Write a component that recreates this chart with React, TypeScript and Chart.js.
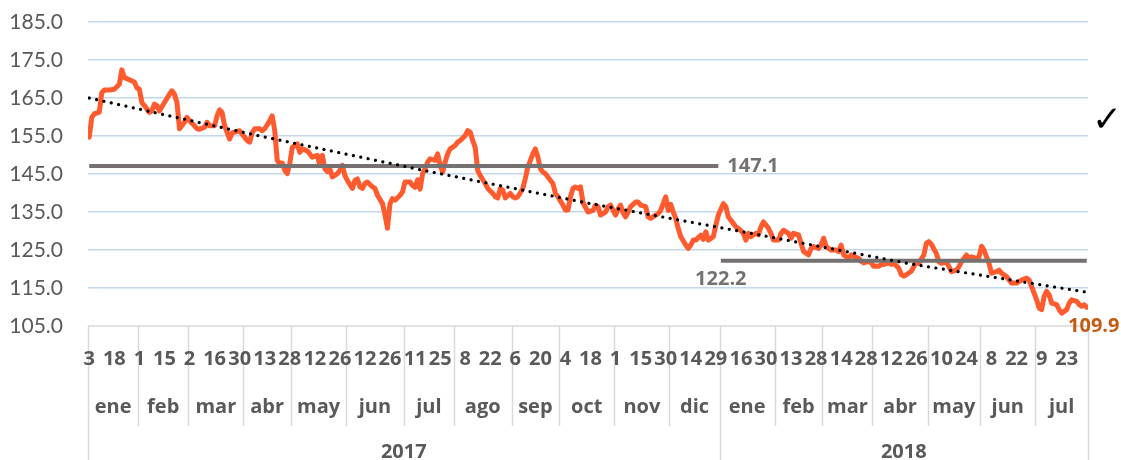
import React, { useEffect, useRef } from "react";
import { Chart, registerables } from "chart.js";

Chart.register(...registerables);

// trading-day index of each reading and the value read at it
const dayIndex = [
  0, 1, 2, 4, 5, 6, 8, 10, 12, 13, 14, 15, 16, 18, 19, 20, 21, 22, 24, 25, 26, 27, 28, 30, 32, 33, 34, 35, 36, 38, 39,
  40, 42, 43, 44, 46, 47, 48, 50, 51, 52, 53, 54, 56, 57, 58, 60, 61, 63, 64, 65, 66, 68, 69, 70, 72, 73, 74, 75, 76,
  77, 78, 79, 80, 81, 83, 84, 85, 87, 88, 89, 91, 92, 93, 94, 95, 96, 97, 99, 100, 101, 102, 103, 105, 106, 107, 108,
  109, 110, 111, 113, 114, 115, 117, 118, 119, 120, 121, 122, 124, 125, 126, 128, 129, 130, 131, 132, 133, 134, 135,
  136, 138, 139, 140, 141, 142, 143, 144, 146, 147, 148, 150, 151, 152, 153, 154, 155, 156, 158, 159, 161, 162, 163,
  164, 165, 166, 168, 169, 170, 171, 173, 174, 175, 177, 178, 179, 180, 181, 182, 183, 185, 186, 187, 189, 190, 191,
  192, 193, 194, 195, 196, 197, 199, 201, 202, 203, 204, 206, 207, 208, 210, 211, 212, 213, 214, 215, 216, 218, 219,
  220, 222, 223, 224, 226, 227, 228, 229, 230, 231, 232, 233, 234, 235, 236, 238, 239, 240, 241, 242, 244, 245, 246,
  247, 249, 250, 251, 253, 254, 255, 257, 258, 259, 261, 262, 263, 264, 266, 267, 268, 269, 271, 272, 273, 275, 276,
  277, 279, 280, 281, 283, 284, 285, 287, 288, 289, 291, 292, 293, 294, 295, 296, 298, 299, 300, 301, 303, 304, 305,
  307, 308, 309, 311, 312, 313, 315, 316, 317, 319, 320, 321, 323, 324, 325, 326, 328, 329, 330, 331, 333, 334, 335,
  336, 338, 339, 340, 342, 343, 344, 346, 347, 348, 350, 351, 352, 354, 355, 356, 357, 358, 359, 360, 362, 363, 364,
  366, 367, 368, 370, 371, 372, 374, 375, 376, 378, 379, 380, 381, 382, 383, 384, 386, 387, 388, 390, 391, 392, 394,
  395, 396, 397, 398,
];
const priceValues = [
  154.7, 159.9, 160.8, 161.3, 166.4, 167.1, 167.1, 167.3, 168.6, 172.4, 170.4, 170.1, 169.8, 169.2, 167.7, 167.3, 163.8,
  163.0, 161.2, 161.6, 163.4, 163.0, 161.6, 163.8, 166.0, 166.9, 166.0, 163.8, 156.9, 158.6, 159.9, 159.0, 157.7, 156.9,
  156.8, 157.3, 158.6, 157.7, 157.7, 160.3, 161.9, 161.2, 157.7, 154.2, 155.8, 156.0, 156.4, 155.5, 153.8, 153.4, 155.8,
  156.9, 156.9, 156.4, 156.9, 159.0, 160.3, 156.4, 148.6, 147.7, 147.9, 146.0, 145.1, 147.7, 152.0, 152.9, 150.7, 151.6,
  151.1, 150.3, 149.4, 149.9, 147.3, 149.9, 146.4, 145.6, 146.4, 144.2, 145.1, 146.0, 147.3, 144.6, 143.3, 141.2, 143.3,
  143.7, 141.6, 141.2, 142.5, 142.9, 141.6, 141.2, 139.4, 137.2, 134.2, 130.7, 137.2, 138.5, 138.1, 139.4, 140.3, 142.9,
  142.9, 142.0, 141.5, 143.5, 141.0, 145.1, 146.4, 148.1, 149.0, 148.6, 150.3, 147.3, 145.5, 148.1, 150.3, 151.6, 152.5,
  153.4, 153.8, 155.1, 156.4, 156.0, 153.8, 152.0, 145.9, 144.6, 142.5, 141.2, 139.9, 139.0, 138.7, 141.2, 140.7, 138.7,
  139.9, 139.0, 138.7, 139.0, 141.2, 143.8, 146.8, 150.3, 151.6, 149.5, 146.4, 145.5, 145.1, 144.2, 142.5, 139.9, 139.0,
  136.8, 135.5, 135.5, 139.0, 141.2, 141.6, 141.2, 141.6, 137.5, 135.0, 135.4, 136.8, 136.4, 134.2, 135.0, 136.4, 136.8,
  134.2, 135.8, 136.8, 134.8, 133.7, 135.0, 136.4, 137.6, 137.6, 136.8, 136.4, 133.7, 133.3, 134.2, 134.6, 135.4, 137.2,
  139.0, 135.4, 137.0, 135.0, 133.3, 130.7, 128.5, 126.3, 125.4, 126.3, 127.6, 127.6, 128.9, 127.8, 129.8, 127.6, 128.5,
  131.5, 134.2, 137.2, 136.4, 133.7, 132.0, 131.1, 130.7, 129.4, 127.6, 129.4, 128.5, 129.4, 129.0, 131.1, 132.4, 130.7,
  129.4, 127.6, 127.6, 129.4, 130.2, 129.4, 128.1, 129.4, 129.0, 126.8, 124.6, 123.7, 125.4, 125.9, 125.4, 126.3, 128.1,
  125.9, 125.4, 125.0, 125.0, 124.6, 126.3, 123.7, 122.8, 123.7, 123.3, 122.8, 122.0, 121.6, 122.0, 121.6, 120.7, 120.7,
  121.2, 121.2, 121.6, 121.2, 121.6, 120.2, 118.5, 118.1, 118.5, 119.4, 120.6, 121.9, 121.5, 123.7, 126.8, 127.2, 126.5,
  124.1, 121.9, 121.5, 121.9, 120.6, 119.3, 119.7, 120.6, 121.9, 123.7, 122.4, 123.2, 122.8, 123.2, 126.0, 125.0, 123.2,
  121.5, 118.9, 119.3, 119.7, 118.9, 118.0, 117.1, 116.3, 116.3, 116.7, 117.1, 117.6, 117.1, 115.4, 111.9, 109.7, 109.3,
  112.8, 114.1, 113.2, 111.0, 110.6, 109.3, 108.4, 109.3, 111.0, 111.9, 111.5, 110.6, 110.2, 110.6, 109.9,
];

const trendIndex = [0, 66, 133, 200, 264, 328, 398];
const trendValues = [165.0, 155.3, 146.0, 137.2, 129.4, 121.3, 113.9];

const average2017 = 147.1;
const average2018 = 122.2;
const lastValueLabel = "109.9";

const totalDays = 399;
const monthNames = ["ene", "feb", "mar", "abr", "may", "jun", "jul", "ago", "sep", "oct", "nov", "dic",
  "ene", "feb", "mar", "abr", "may", "jun", "jul"];
const monthStarts = [0, 20, 40, 62, 81, 103, 126, 146, 169, 188, 210, 232, 252, 274, 293, 313, 335, 356, 378];
const yearNames = ["2017", "2018"];
const yearStarts = [0, 252];
const dayTickLabels = ["3", "18", "1", "15", "2", "16", "30", "13", "28", "12", "26", "12", "26", "11", "25", "8",
  "22", "6", "20", "4", "18", "1", "15", "30", "14", "29", "16", "30", "13", "28", "14", "28", "12", "26", "10", "24",
  "8", "22", "9", "23"];
const dayTickStep = 10;

const yTickValues = [105, 115, 125, 135, 145, 155, 165, 175, 185];
const Y_MIN = 105;
const Y_MAX = 185;
const Y_STEP = 10;

const BOLD_FONT = "bold 20px 'Open Sans'";

const axisPlugin = {
  id: "multiAxis",
  afterDraw(chart: any) {
    const ctx = chart.ctx;
    const xs = chart.scales.x;
    const ys = chart.scales.y;
    const ca = chart.chartArea;
    const H = chart.height;
    ctx.save();
    const line = (x1: number, y1: number, x2: number, y2: number) => {
      ctx.beginPath();
      ctx.moveTo(x1, y1);
      ctx.lineTo(x2, y2);
      ctx.stroke();
    };
    ctx.strokeStyle = "#D9D9D9";
    ctx.lineWidth = 1.5;
    line(ca.left, ca.bottom, ca.right, ca.bottom);
    const bounds = [...monthStarts, totalDays];
    bounds.forEach((s) => {
      const x = Math.round(xs.getPixelForValue(s - 0.5)) + 0.5;
      const full = s === 0 || s === totalDays || yearStarts.includes(s);
      line(x, ca.bottom, x, full ? H : ca.bottom + 100);
    });

    // y-axis value labels
    ctx.fillStyle = "#595959";
    ctx.textBaseline = "middle";
    ctx.textAlign = "right";
    ctx.font = "21px Lato";
    yTickValues.forEach((v) => {
      ctx.fillText(v.toFixed(1), ca.left - 25, ys.getPixelForValue(v));
    });

    ctx.textAlign = "center";
    ctx.font = BOLD_FONT;
    dayTickLabels.forEach((t, k) => {
      ctx.fillText(t, xs.getPixelForValue(k * dayTickStep), ca.bottom + 33);
    });
    monthNames.forEach((m, i) => {
      const a = monthStarts[i] - 0.5;
      const b = (i + 1 < monthStarts.length ? monthStarts[i + 1] : totalDays) - 0.5;
      ctx.fillText(m, (xs.getPixelForValue(a) + xs.getPixelForValue(b)) / 2, ca.bottom + 81);
    });
    yearNames.forEach((y, i) => {
      const a = yearStarts[i] - 0.5;
      const b = (i + 1 < yearStarts.length ? yearStarts[i + 1] : totalDays) - 0.5;
      ctx.fillText(y, (xs.getPixelForValue(a) + xs.getPixelForValue(b)) / 2, ca.bottom + 126);
    });

    // data labels
    ctx.fillStyle = "#767171";
    ctx.textAlign = "left";
    ctx.fillText(average2017.toFixed(1), xs.getPixelForValue(yearStarts[1] - 1) + 9, ys.getPixelForValue(average2017));
    ctx.textAlign = "center";
    ctx.fillText(average2018.toFixed(1), xs.getPixelForValue(yearStarts[1]), ys.getPixelForValue(average2018) + 19);
    ctx.fillStyle = "#C55A11";
    ctx.fillText(lastValueLabel, xs.getPixelForValue(totalDays - 1) + 7, ys.getPixelForValue(Number(lastValueLabel)) + 19);

    // check mark
    ctx.fillStyle = "#000000";
    ctx.font = "bold 36px 'DejaVu Sans'";
    ctx.fillText("\u2713", 1107, 122);
    ctx.restore();
  },
};

export default function App() {
  const ref = useRef<HTMLCanvasElement | null>(null);
  useEffect(() => {
    if (!ref.current) return;
    const lastIdx = dayIndex[dayIndex.length - 1];
    const chart = new Chart(ref.current, {
      type: "line",
      data: {
        datasets: [
          {
            label: "trend",
            data: trendIndex.map((x, i) => ({ x, y: trendValues[i] })),
            borderColor: "#000000",
            borderWidth: 3.2,
            borderDash: [0.01, 7.5],
            borderCapStyle: "round",
            pointRadius: 0,
            fill: false,
            order: 0,
          },
          {
            label: "avg2017",
            data: [
              { x: 0, y: average2017 },
              { x: yearStarts[1] - 1, y: average2017 },
            ],
            borderColor: "#767171",
            borderWidth: 4,
            pointRadius: 0,
            order: 1,
          },
          {
            label: "avg2018",
            data: [
              { x: yearStarts[1], y: average2018 },
              { x: lastIdx, y: average2018 },
            ],
            borderColor: "#767171",
            borderWidth: 4,
            pointRadius: 0,
            order: 1,
          },
          {
            label: "price",
            data: dayIndex.map((x, i) => ({ x, y: priceValues[i] })),
            borderColor: "#FF5B2E",
            borderWidth: 5,
            borderJoinStyle: "round",
            borderCapStyle: "round",
            pointRadius: 0,
            tension: 0,
            order: 2,
          },
        ],
      },
      options: {
        animation: false,
        responsive: true,
        maintainAspectRatio: false,
        layout: { padding: { top: 22, right: 33, left: 0, bottom: 134 } },
        plugins: { legend: { display: false }, tooltip: { enabled: false } },
        scales: {
          x: {
            type: "linear",
            min: -0.5,
            max: totalDays - 0.5,
            display: false,
          },
          y: {
            min: Y_MIN,
            max: Y_MAX,
            ticks: {
              stepSize: Y_STEP,
              display: false,
            },
            grid: {
              drawTicks: false,
              lineWidth: 1.5,
              color: (c: any) => (c.tick && c.tick.value === Y_MIN ? "rgba(0,0,0,0)" : "#C3D8EE"),
            },
            border: { display: false },
            afterFit: (s: any) => {
              s.width = 88;
            },
          },
        },
      },
      plugins: [axisPlugin],
    } as any);
    return () => chart.destroy();
  }, []);
  return (
    <div style={{ position: "fixed", left: 0, top: 0, width: 1121, height: 460, background: "#ffffff" }}>
      <canvas ref={ref} />
    </div>
  );
}
